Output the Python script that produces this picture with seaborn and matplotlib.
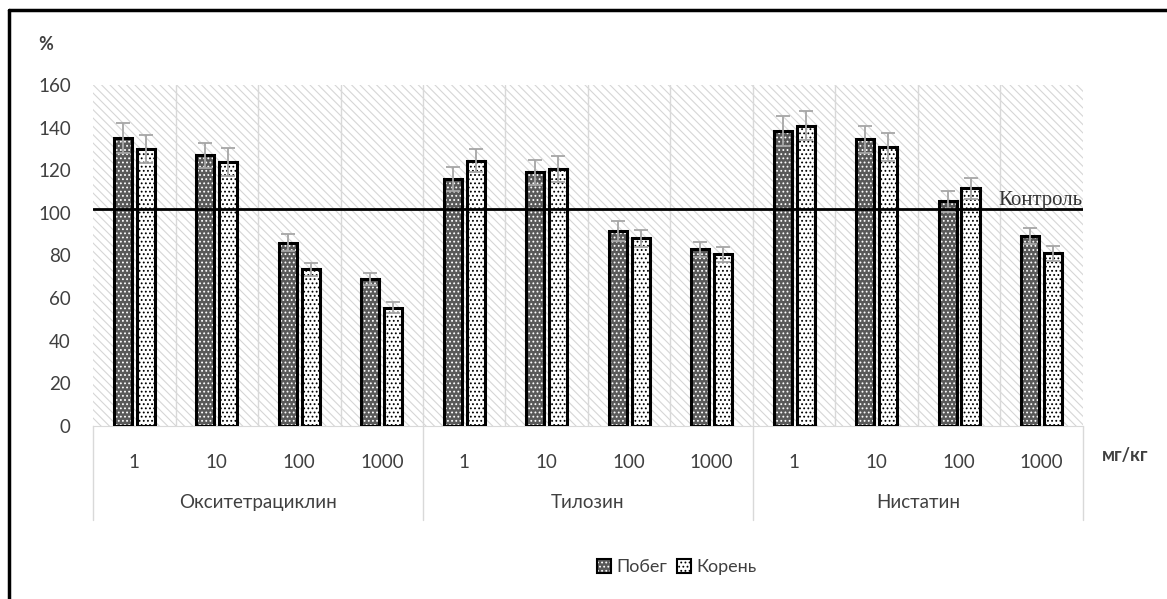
import numpy as np
import pandas as pd
import matplotlib.pyplot as plt
import matplotlib.transforms as mtransforms
import seaborn as sns
from matplotlib.patches import Rectangle, Patch
from matplotlib.lines import Line2D
from matplotlib.legend_handler import HandlerTuple

# ---------------------------
# data
# ---------------------------
drugs = ['Окситетрациклин', 'Тилозин', 'Нистатин']
doses = ['1', '10', '100', '1000']
organs = ['Побег', 'Корень']
shoot = [135, 127, 86, 69, 116, 119, 91.5, 83, 138.5, 134.5, 105.5, 89]
root = [130, 124, 73.5, 55.5, 124.5, 120.5, 88, 80.5, 141, 131, 111.5, 81]
shoot_err = [7, 6, 4, 3, 5.5, 6, 4.5, 3.5, 7, 6.5, 5, 3.8]
root_err = [6.5, 6.5, 3, 2.5, 5.5, 6, 4, 3.5, 7, 6.5, 5, 3.5]
control = 102

sns.set_style('white')
plt.rcParams['font.family'] = ['Lato', 'DejaVu Sans']
plt.rcParams['hatch.linewidth'] = 0.8

cats = [f'{d} {c}' for d in drugs for c in doses]
df = pd.DataFrame({
    'cat': cats * 2,
    'organ': np.repeat(organs, len(cats)),
    'value': shoot + root,
})

fig = plt.figure(figsize=(11.67, 5.99), dpi=100)
ax = fig.add_axes([0.0797, 0.289, 0.8483, 0.569])

# fondo rayado
ax.add_patch(Rectangle((0, 0), 1, 1, transform=ax.transAxes, facecolor='white',
                       edgecolor='#d6d6d6', hatch='\\\\\\\\', lw=0, zorder=0))

sns.barplot(data=df, x='cat', y='value', hue='organ', order=cats, hue_order=organs,
            palette=['#595959', 'white'], width=0.55, gap=0.2, errorbar=None,
            legend=False, ax=ax, zorder=3)

dot_cols = ['white', 'black']
for cont, dc, errs in zip(ax.containers, dot_cols, [shoot_err, root_err]):
    xs, hs = [], []
    for bar in cont:
        bar.set_hatch('....')
        bar.set_edgecolor(dc)
        bar.set_linewidth(0)
        ax.add_patch(Rectangle(bar.get_xy(), bar.get_width(), bar.get_height(),
                               fill=False, edgecolor='black', lw=2.2, zorder=4))
        xs.append(bar.get_x() + bar.get_width() / 2)
        hs.append(bar.get_height())
    ax.errorbar(xs, hs, yerr=errs, fmt='none', ecolor='#a6a6a6', elinewidth=1.3,
                capsize=5, capthick=1.3, zorder=5)

ax.axhline(control, color='black', lw=2, zorder=6)
ax.text(11.5, control + 1.5, 'Контроль', ha='right', va='baseline',
        family='Liberation Serif', fontsize=15, color='#333333', zorder=7)

ax.set_xlim(-0.5, 11.5)
ax.set_ylim(0, 160)
ax.set_yticks(range(0, 161, 20))
ax.set_xticks(range(len(cats)))
ax.set_xticklabels(doses * 3)
ax.set_xlabel('')
ax.set_ylabel('')
for x in np.arange(0.5, 11, 1):
    ax.axvline(x, color='#d9d9d9', lw=1, zorder=1)
for s in ['left', 'top', 'right']:
    ax.spines[s].set_visible(False)
ax.spines['bottom'].set_color('#d9d9d9')
ax.tick_params(axis='both', length=0, labelsize=13.5, labelcolor='#404040')
ax.tick_params(axis='x', pad=20)
ax.tick_params(axis='y', pad=16)

trans = mtransforms.blended_transform_factory(ax.transData, ax.transAxes)
for i, d in enumerate(drugs):
    ax.text(i * 4 + 1.5, -0.226, d, transform=trans, ha='center', va='center',
            fontsize=13.5, color='#404040')
for x in [-0.5, 3.5, 7.5, 11.5]:
    ax.plot([x, x], [0, -0.276], transform=trans, color='#d9d9d9', lw=1, clip_on=False)

fig.text(46 / 1167, 1 - 45 / 599, '%', fontsize=13, fontweight='bold',
         color='#404040', ha='center', va='center')
fig.text(1125 / 1167, 1 - 455 / 599, 'мг/кг', fontsize=13, fontweight='bold',
         color='#404040', ha='center', va='center')

handles = [
    (Patch(facecolor='#595959', edgecolor='white', hatch='....', lw=0),
     Patch(fill=False, edgecolor='black', lw=1.5)),
    (Patch(facecolor='white', edgecolor='black', hatch='....', lw=0),
     Patch(fill=False, edgecolor='black', lw=1.5)),
]
fig.legend(handles, organs, handler_map={tuple: HandlerTuple(ndivide=1, pad=0)},
           loc='center', bbox_to_anchor=(0.58, 0.053), ncol=2, frameon=False,
           handlelength=0.8, handleheight=0.8, handletextpad=0.3,
           columnspacing=0.5, fontsize=13, labelcolor='#404040')

# marco
fig.add_artist(Line2D([9 / 1167, 9 / 1167], [0, 1 - 10 / 599], color='black', lw=2.5,
                      transform=fig.transFigure))
fig.add_artist(Line2D([9 / 1167, 1], [1 - 10 / 599, 1 - 10 / 599], color='black', lw=2.5,
                      transform=fig.transFigure))

fig.savefig('out.png', dpi=100)
